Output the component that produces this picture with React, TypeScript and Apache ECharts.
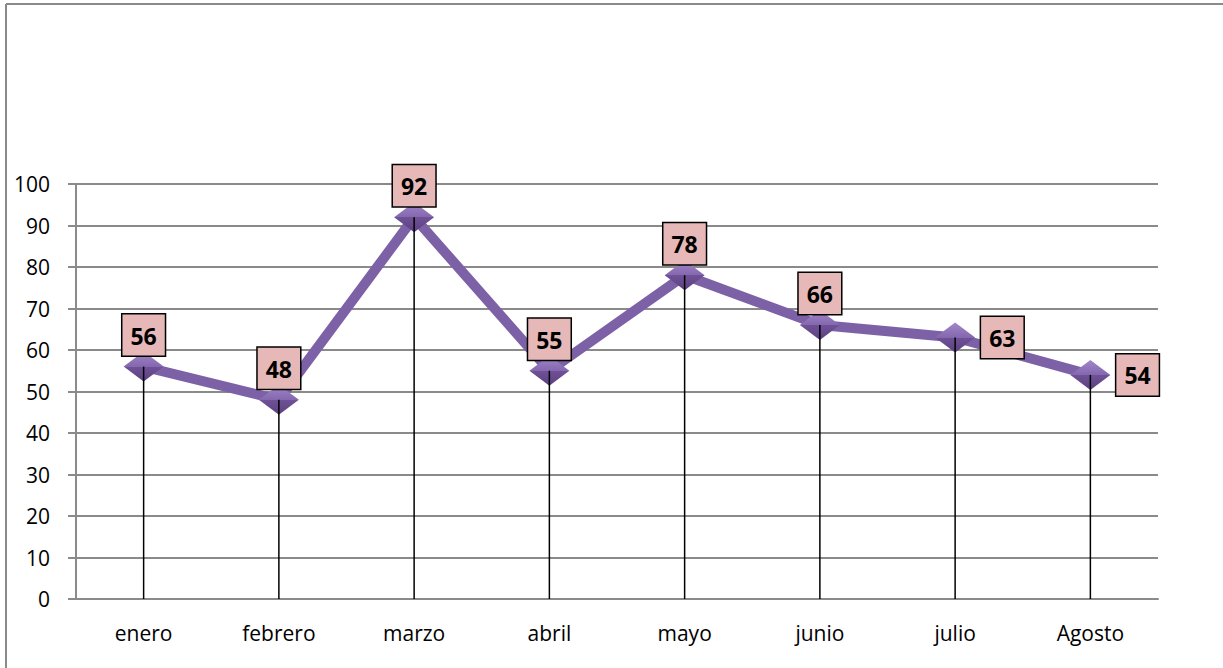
import React, { useEffect, useRef } from "react";
import * as echarts from "echarts";

const categories = ["enero", "febrero", "marzo", "abril", "mayo", "junio", "julio", "Agosto"];
const values = [56, 48, 92, 55, 78, 66, 63, 54];
const labelSides = ["top", "top", "top", "top", "top", "top", "right", "right"];
const yTicks = { min: 0, max: 100, interval: 10 };

export default function App() {
  const ref = useRef<HTMLDivElement>(null);
  useEffect(() => {
    if (!ref.current) return;
    const chart = echarts.init(ref.current, undefined, { renderer: "svg" });
    const font = "'Open Sans', Lato, sans-serif";
    chart.setOption({
      animation: false,
      backgroundColor: "#fff",
      textStyle: { fontFamily: font },
      graphic: [
        { type: "line", shape: { x1: 6, y1: 4, x2: 1223, y2: 4 }, style: { stroke: "#8a8a8a", lineWidth: 2 } },
        { type: "line", shape: { x1: 6, y1: 4, x2: 6, y2: 668 }, style: { stroke: "#8a8a8a", lineWidth: 2 } },
      ],
      grid: { left: 76, right: 65, top: 184, bottom: 69, containLabel: false },
      xAxis: {
        type: "category",
        data: categories,
        boundaryGap: true,
        axisLine: { show: true, lineStyle: { color: "#8a8a8a", width: 2 } },
        axisTick: { show: false },
        axisLabel: { color: "#000", fontSize: 21, margin: 23, fontFamily: font },
        splitLine: { show: false },
      },
      yAxis: {
        type: "value",
        min: yTicks.min,
        max: yTicks.max,
        interval: yTicks.interval,
        axisLine: { show: true, lineStyle: { color: "#8a8a8a", width: 2 } },
        axisTick: { show: true, length: 8, lineStyle: { color: "#8a8a8a", width: 2 } },
        axisLabel: { color: "#000", fontSize: 21, margin: 26, fontFamily: font },
        splitLine: { show: true, lineStyle: { color: "#8a8a8a", width: 2 } },
      },
      series: [
        {
          type: "line",
          data: values.map((v, i) => ({
            value: v,
            label: { position: labelSides[i], distance: labelSides[i] === "top" ? -4 : 6 },
          })),
          z: 2,
          symbol: "diamond",
          symbolSize: [40, 30],
          lineStyle: { color: "#7d61a6", width: 10 },
          itemStyle: {
            color: {
              type: "linear",
              x: 0, y: 0, x2: 0, y2: 1,
              colorStops: [
                { offset: 0, color: "#a287ca" },
                { offset: 0.5, color: "#8467ae" },
                { offset: 0.5, color: "#6f5296" },
                { offset: 1, color: "#5b4080" },
              ],
            },
            borderWidth: 0,
          },
          label: {
            show: true,
            color: "#000",
            fontSize: 23,
            fontWeight: "bold",
            fontFamily: font,
            lineHeight: 24,
            backgroundColor: "#e6b9b8",
            borderColor: "#000",
            borderWidth: 1.5,
            padding: [9, 8, 8, 8],
          },
          emphasis: { disabled: true },
        },
        {
          type: "bar",
          data: values,
          barWidth: 1.5,
          z: 3,
          itemStyle: { color: "#000" },
          silent: true,
          emphasis: { disabled: true },
        },
      ],
    });
    return () => chart.dispose();
  }, []);
  return (
    <div
      ref={ref}
      style={{ position: "fixed", left: 0, top: 0, width: 1223, height: 668 }}
    />
  );
}
